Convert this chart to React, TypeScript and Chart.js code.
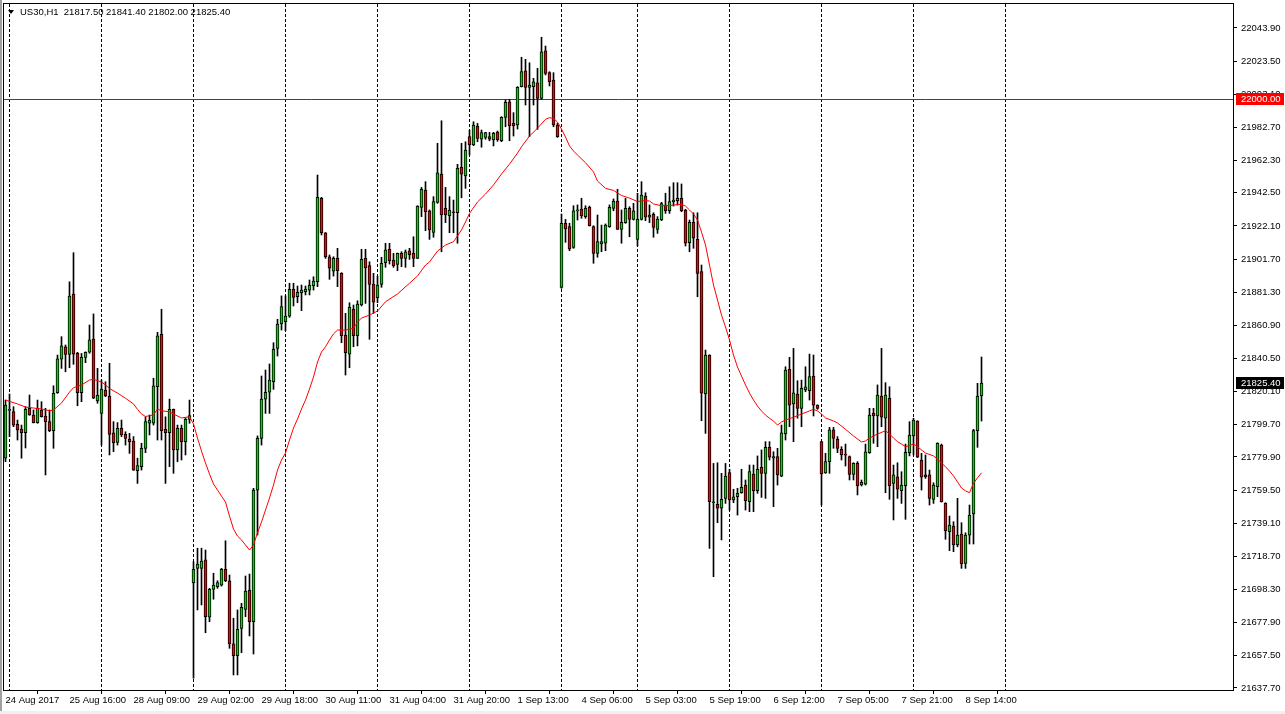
import React, { useEffect, useRef } from 'react';
import { Chart, registerables } from 'chart.js';

Chart.register(...registerables);

// ---- data (US30, H1) ----
const opens = [
  21779.1, 21808.5, 21807.8, 21800.0, 21797.1, 21794.8, 21809.8, 21805.7, 21801.0, 21808.8,
  21805.1, 21801.6, 21796.1, 21819.4, 21840.0, 21847.7, 21843.0, 21880.2, 21843.6, 21819.4,
  21841.2, 21844.3, 21852.5, 21814.3, 21806.7, 21821.1, 21817.4, 21794.8, 21788.9, 21797.5,
  21793.8, 21790.9, 21789.7, 21771.4, 21773.9, 21785.2, 21800.6, 21800.6, 21823.1, 21855.4,
  21796.9, 21794.8, 21809.2, 21784.2, 21797.5, 21789.3, 21803.0, 21702.4, 21711.3, 21711.3,
  21716.5, 21681.2, 21698.4, 21700.0, 21701.0, 21710.7, 21703.7, 21664.8, 21657.6, 21674.4,
  21686.1, 21698.0, 21678.5, 21759.5, 21791.3, 21815.4, 21819.7, 21826.2, 21846.7, 21861.7,
  21863.1, 21866.6, 21883.0, 21878.5, 21880.9, 21881.6, 21882.6, 21885.3, 21887.8, 21939.1,
  21917.9, 21903.1, 21894.3, 21902.1, 21892.9, 21854.9, 21843.2, 21870.7, 21854.5, 21873.4,
  21902.1, 21897.6, 21886.3, 21877.9, 21886.1, 21899.4, 21907.7, 21901.1, 21898.4, 21905.2,
  21902.1, 21906.8, 21905.2, 21902.1, 21933.5, 21944.2, 21931.4, 21918.1, 21936.6, 21954.0,
  21932.9, 21928.4, 21930.8, 21930.2, 21958.2, 21952.8, 21977.0, 21971.9, 21983.6, 21975.4,
  21976.6, 21977.0, 21975.0, 21979.9, 21974.5, 21988.9, 21998.5, 21985.2, 21984.2, 22007.8,
  22017.6, 22007.4, 22007.8, 22010.2, 22000.6, 22029.9, 22016.4, 22011.9, 21984.2, 21884.3,
  21923.7, 21921.6, 21908.9, 21931.3, 21932.5, 21927.8, 21933.5, 21921.6, 21905.2, 21911.0,
  21911.4, 21921.6, 21932.9, 21937.4, 21920.0, 21924.1, 21932.9, 21926.1, 21913.8, 21926.1,
  21940.5, 21927.4, 21929.2, 21920.0, 21925.9, 21934.9, 21931.4, 21937.0, 21937.6, 21939.1,
  21931.9, 21911.7, 21924.3, 21913.8, 21893.9, 21818.6, 21842.6, 21751.7, 21750.7, 21748.3,
  21754.4, 21770.2, 21753.4, 21755.4, 21757.9, 21762.6, 21752.3, 21769.4, 21759.1, 21773.5,
  21769.8, 21785.8, 21780.1, 21780.1, 21768.1, 21794.0, 21833.8, 21812.5, 21818.6, 21809.8,
  21821.1, 21820.6, 21829.7, 21811.8, 21789.3, 21770.0, 21777.0, 21796.5, 21790.7, 21784.6,
  21781.1, 21780.1, 21769.2, 21776.0, 21762.6, 21763.2, 21782.5, 21806.7, 21805.1, 21817.4,
  21803.7, 21816.0, 21763.6, 21767.7, 21759.1, 21762.2, 21782.5, 21792.8, 21802.0, 21778.0,
  21768.8, 21768.8, 21753.8, 21761.6, 21787.2, 21751.3, 21733.9, 21737.4, 21725.7, 21732.4,
  21714.4, 21731.8, 21744.8, 21796.1, 21817.5,
];

const highs = [
  21814.9, 21818.6, 21810.8, 21802.6, 21799.5, 21810.8, 21818.0, 21808.8, 21814.9, 21813.9,
  21809.8, 21808.8, 21823.7, 21842.6, 21853.9, 21848.8, 21887.7, 21905.6, 21844.3, 21843.6,
  21844.6, 21861.1, 21867.9, 21834.4, 21827.2, 21826.2, 21837.5, 21801.6, 21801.0, 21802.6,
  21795.4, 21794.4, 21792.4, 21779.1, 21788.3, 21804.6, 21805.7, 21828.3, 21856.6, 21870.8,
  21804.6, 21815.5, 21809.4, 21799.5, 21799.5, 21803.7, 21814.9, 21715.4, 21723.7, 21723.7,
  21722.6, 21699.0, 21708.3, 21703.7, 21711.3, 21728.3, 21707.2, 21680.6, 21685.7, 21689.8,
  21706.6, 21707.8, 21760.6, 21792.8, 21829.7, 21833.4, 21837.1, 21850.2, 21864.6, 21879.0,
  21879.0, 21886.8, 21886.8, 21885.1, 21885.7, 21885.1, 21888.8, 21890.8, 21953.4, 21939.7,
  21918.0, 21904.2, 21903.1, 21908.3, 21893.3, 21868.3, 21874.8, 21873.4, 21876.0, 21907.7,
  21907.7, 21900.0, 21892.9, 21891.2, 21902.8, 21911.4, 21911.4, 21905.2, 21905.4, 21906.2,
  21907.3, 21908.3, 21915.4, 21934.5, 21945.8, 21949.3, 21931.9, 21940.1, 21972.9, 21986.8,
  21945.8, 21940.1, 21938.0, 21960.0, 21972.9, 21973.9, 21981.1, 21986.2, 21985.2, 21981.1,
  21979.7, 21979.7, 21979.7, 21980.5, 21989.3, 21999.6, 22000.0, 21991.8, 22007.8, 22025.9,
  22024.6, 22022.5, 22012.9, 22019.1, 22038.2, 22032.8, 22017.0, 22016.4, 21985.2, 21929.4,
  21926.1, 21923.7, 21934.5, 21935.0, 21939.1, 21934.5, 21934.3, 21922.2, 21928.8, 21922.6,
  21923.3, 21935.0, 21938.7, 21944.6, 21931.9, 21939.1, 21933.9, 21936.0, 21942.2, 21949.3,
  21942.5, 21935.0, 21930.2, 21927.8, 21936.6, 21942.2, 21946.2, 21948.7, 21948.7, 21947.9,
  21932.3, 21925.7, 21930.2, 21930.2, 21898.0, 21845.7, 21842.8, 21775.9, 21776.3, 21769.8,
  21775.9, 21772.3, 21760.0, 21760.6, 21772.3, 21765.7, 21774.9, 21774.9, 21780.5, 21784.2,
  21789.3, 21789.3, 21783.1, 21785.2, 21799.5, 21835.4, 21841.2, 21846.7, 21826.8, 21827.2,
  21835.4, 21843.2, 21842.6, 21812.0, 21789.5, 21782.1, 21798.1, 21798.1, 21792.4, 21786.2,
  21787.8, 21780.5, 21776.3, 21777.0, 21765.7, 21787.8, 21809.8, 21809.8, 21824.2, 21846.7,
  21825.6, 21823.1, 21774.9, 21776.3, 21770.8, 21787.8, 21801.6, 21803.7, 21802.2, 21782.1,
  21781.1, 21771.8, 21764.0, 21788.6, 21787.8, 21751.7, 21743.5, 21740.0, 21754.4, 21739.4,
  21733.2, 21750.3, 21796.9, 21825.2, 21841.4,
];

const lows = [
  21777.0, 21792.4, 21798.5, 21790.3, 21779.1, 21785.4, 21805.5, 21800.8, 21800.6, 21804.4,
  21768.8, 21795.4, 21785.2, 21819.0, 21834.4, 21832.3, 21834.8, 21836.9, 21811.4, 21813.9,
  21837.9, 21843.7, 21815.8, 21812.9, 21787.2, 21817.0, 21781.1, 21783.1, 21787.2, 21792.4,
  21787.2, 21782.1, 21771.6, 21763.6, 21771.8, 21782.5, 21793.4, 21799.5, 21790.3, 21790.3,
  21763.6, 21773.9, 21769.8, 21777.0, 21778.0, 21781.1, 21800.6, 21643.7, 21685.7, 21688.8,
  21671.7, 21678.5, 21692.3, 21699.0, 21700.4, 21703.1, 21662.1, 21645.7, 21645.7, 21659.4,
  21681.6, 21669.7, 21658.6, 21731.8, 21787.2, 21806.7, 21806.7, 21821.5, 21842.0, 21858.0,
  21857.6, 21865.8, 21872.8, 21874.8, 21869.9, 21879.6, 21879.6, 21882.6, 21884.7, 21916.5,
  21902.1, 21889.2, 21891.2, 21884.7, 21850.2, 21830.3, 21834.8, 21847.7, 21848.2, 21872.8,
  21874.4, 21852.3, 21868.3, 21874.8, 21884.3, 21896.6, 21898.6, 21896.6, 21894.5, 21897.0,
  21896.6, 21901.5, 21897.0, 21902.0, 21927.8, 21919.1, 21913.8, 21915.1, 21936.0, 21906.2,
  21924.1, 21917.9, 21917.9, 21911.4, 21939.4, 21945.2, 21965.7, 21971.5, 21973.9, 21970.5,
  21975.4, 21974.5, 21971.3, 21974.2, 21973.9, 21983.1, 21974.5, 21977.4, 21981.7, 22007.6,
  21996.5, 21977.0, 21996.5, 21981.5, 22000.0, 22015.0, 22008.2, 21983.1, 21976.6, 21883.7,
  21912.0, 21906.8, 21908.3, 21925.7, 21926.8, 21926.8, 21922.0, 21899.1, 21902.8, 21906.2,
  21906.8, 21921.2, 21931.4, 21919.9, 21911.4, 21923.7, 21915.4, 21925.7, 21909.7, 21925.7,
  21925.3, 21924.1, 21915.1, 21917.5, 21925.3, 21929.8, 21929.8, 21934.3, 21934.9, 21930.8,
  21909.7, 21906.2, 21908.3, 21878.5, 21802.2, 21794.4, 21723.6, 21706.2, 21739.4, 21728.8,
  21751.3, 21747.2, 21751.7, 21744.1, 21757.5, 21747.2, 21746.2, 21746.2, 21757.5, 21755.0,
  21754.4, 21778.0, 21749.3, 21762.6, 21767.7, 21790.3, 21798.5, 21789.3, 21803.7, 21798.5,
  21820.0, 21814.9, 21805.1, 21809.2, 21750.3, 21769.8, 21769.8, 21785.2, 21782.5, 21778.0,
  21774.3, 21765.7, 21765.7, 21756.5, 21762.0, 21762.6, 21782.1, 21788.3, 21786.2, 21798.5,
  21757.9, 21753.8, 21741.1, 21754.4, 21751.3, 21741.5, 21780.5, 21781.1, 21779.5, 21759.5,
  21766.7, 21750.3, 21751.3, 21755.4, 21752.1, 21729.2, 21722.2, 21721.6, 21724.6, 21711.3,
  21711.3, 21726.3, 21726.3, 21785.8, 21802.0,
];

const closes = [
  21811.8, 21809.0, 21799.5, 21796.5, 21794.8, 21809.2, 21805.7, 21801.0, 21809.8, 21804.6,
  21801.6, 21796.1, 21819.1, 21840.2, 21848.2, 21843.0, 21878.9, 21843.2, 21819.4, 21841.2,
  21844.3, 21851.9, 21816.0, 21818.0, 21821.7, 21817.4, 21793.8, 21788.6, 21797.5, 21793.4,
  21791.3, 21789.3, 21771.8, 21774.5, 21785.2, 21801.6, 21802.6, 21823.7, 21854.5, 21796.1,
  21794.8, 21809.2, 21784.2, 21797.5, 21789.3, 21803.0, 21805.3, 21710.7, 21714.0, 21715.8,
  21681.6, 21698.4, 21701.0, 21702.5, 21710.7, 21703.7, 21664.8, 21657.6, 21673.8, 21687.3,
  21697.4, 21678.5, 21759.5, 21791.3, 21815.5, 21819.7, 21827.2, 21846.1, 21861.7, 21872.4,
  21866.6, 21883.0, 21878.1, 21881.2, 21882.6, 21883.2, 21885.7, 21888.2, 21939.7, 21917.9,
  21903.1, 21896.0, 21902.1, 21894.5, 21854.5, 21844.0, 21872.0, 21854.5, 21874.0, 21901.5,
  21896.3, 21886.1, 21875.1, 21885.7, 21899.1, 21907.3, 21900.7, 21897.6, 21905.2, 21902.1,
  21906.2, 21904.2, 21902.1, 21934.3, 21944.6, 21930.8, 21919.6, 21937.0, 21954.8, 21928.8,
  21928.8, 21931.9, 21930.2, 21957.5, 21954.0, 21968.8, 21971.9, 21984.2, 21976.0, 21979.5,
  21979.5, 21975.4, 21979.1, 21975.1, 21988.9, 21998.2, 21983.8, 21983.8, 22007.4, 22017.0,
  22007.4, 22008.8, 22010.8, 22000.6, 22029.3, 22016.0, 22010.8, 21984.2, 21977.0, 21923.7,
  21920.2, 21907.9, 21931.3, 21931.9, 21928.2, 21932.9, 21922.2, 21905.2, 21912.4, 21912.4,
  21922.6, 21933.5, 21937.4, 21920.0, 21924.3, 21932.9, 21926.1, 21931.3, 21926.1, 21941.1,
  21927.4, 21928.8, 21921.2, 21926.3, 21935.8, 21931.4, 21937.0, 21938.0, 21939.1, 21931.4,
  21911.4, 21924.3, 21914.5, 21892.9, 21819.1, 21842.6, 21752.3, 21751.9, 21748.3, 21753.8,
  21768.1, 21753.4, 21755.4, 21757.5, 21761.2, 21752.9, 21770.8, 21759.1, 21772.3, 21769.8,
  21785.8, 21779.7, 21779.1, 21768.8, 21794.8, 21833.4, 21811.8, 21819.4, 21809.8, 21822.1,
  21823.1, 21829.3, 21811.8, 21809.8, 21769.4, 21777.0, 21796.5, 21791.3, 21785.2, 21781.1,
  21781.0, 21769.2, 21776.0, 21762.2, 21764.3, 21783.1, 21805.7, 21805.1, 21818.0, 21804.3,
  21818.0, 21762.2, 21768.8, 21760.0, 21762.6, 21782.7, 21793.4, 21802.6, 21779.7, 21767.4,
  21767.7, 21754.4, 21762.6, 21788.3, 21752.3, 21734.5, 21738.0, 21725.7, 21731.8, 21714.0,
  21731.8, 21744.1, 21796.1, 21817.4, 21825.4,
];

// moving average (red line) at these bar positions
const maBars = [
  0, 3, 5, 7, 9, 11, 12, 14, 16, 17, 19, 21, 22, 24, 25, 26, 28, 30, 32, 33,
  34, 35, 37, 38, 39, 41, 42, 44, 46, 47, 48, 49, 50, 51, 52, 53, 54, 55, 56, 57,
  58, 59, 60, 61, 62, 63, 64, 65, 66, 67, 68, 69, 70, 71, 72, 73, 74, 75, 76, 77,
  78, 79, 80, 81, 82, 83, 85, 87, 88, 89, 91, 93, 95, 98, 101, 103, 105, 106, 108, 110,
  112, 113, 114, 115, 116, 118, 120, 122, 124, 126, 128, 129, 131, 133, 135, 136, 137, 138, 139, 140,
  141, 142, 143, 145, 147, 148, 150, 152, 154, 156, 158, 160, 161, 162, 164, 166, 168, 169, 170, 171,
  172, 173, 174, 175, 176, 177, 178, 179, 180, 181, 182, 183, 184, 185, 186, 187, 188, 189, 190, 191,
  192, 193, 194, 195, 197, 199, 201, 202, 203, 204, 205, 207, 208, 210, 212, 214, 215, 216, 218, 220,
  221, 222, 223, 224, 225, 226, 227, 228, 229, 230, 232, 233, 234, 235, 236, 237, 238, 239, 240, 241,
  242, 243, 244,
];
const maValues = [
  21814.9, 21812.5, 21810.6, 21810.0, 21809.4, 21808.3, 21808.8, 21813.1, 21819.8, 21822.5,
  21824.2, 21827.2, 21827.7, 21826.0, 21824.2, 21822.0, 21819.2, 21816.0, 21812.5, 21809.2,
  21806.3, 21804.8, 21805.7, 21809.4, 21808.3, 21807.7, 21806.3, 21803.9, 21804.6, 21800.2,
  21791.5, 21783.5, 21776.1, 21769.4, 21763.2, 21759.5, 21755.8, 21752.1, 21743.5, 21735.5,
  21731.2, 21728.8, 21725.7, 21722.6, 21725.7, 21733.1, 21739.8, 21747.2, 21754.6, 21762.6,
  21771.8, 21778.0, 21782.3, 21790.3, 21797.7, 21803.2, 21809.4, 21814.9, 21821.7, 21829.1,
  21838.3, 21844.5, 21847.7, 21851.9, 21855.6, 21858.0, 21858.0, 21859.1, 21862.9, 21865.4,
  21867.2, 21869.7, 21875.4, 21880.2, 21886.8, 21891.3, 21898.0, 21899.9, 21906.6, 21910.3,
  21912.4, 21915.9, 21919.6, 21924.5, 21929.8, 21936.8, 21941.7, 21947.3, 21954.0, 21960.1,
  21966.9, 21970.8, 21977.4, 21982.2, 21987.7, 21988.7, 21988.2, 21986.0, 21981.7, 21976.8,
  21971.3, 21968.2, 21965.7, 21961.0, 21955.3, 21949.7, 21945.2, 21943.9, 21940.8, 21939.2,
  21937.1, 21937.7, 21937.4, 21935.6, 21934.5, 21934.6, 21935.2, 21935.4, 21934.3, 21931.9,
  21929.4, 21925.7, 21918.3, 21910.3, 21898.0, 21885.7, 21876.5, 21867.2, 21859.9, 21851.9,
  21842.6, 21835.2, 21829.7, 21824.2, 21819.2, 21814.9, 21811.2, 21808.2, 21805.7, 21803.7,
  21802.0, 21799.5, 21801.4, 21802.6, 21804.3, 21806.3, 21808.2, 21809.2, 21808.2, 21806.3,
  21803.9, 21802.0, 21800.8, 21796.9, 21792.8, 21789.1, 21789.7, 21791.5, 21794.0, 21796.0,
  21794.0, 21791.5, 21789.3, 21787.8, 21786.2, 21786.9, 21787.8, 21786.2, 21784.2, 21782.3,
  21780.5, 21778.6, 21776.1, 21773.9, 21771.2, 21768.2, 21764.5, 21760.8, 21759.0, 21757.9,
  21763.7, 21767.0, 21770.1,
];

const xTickBars = [0, 16, 32, 48, 64, 80, 96, 112, 128, 144, 160, 176, 192, 208, 224, 240];
const xTickLabels = [
  '24 Aug 2017', '25 Aug 16:00', '28 Aug 09:00', '29 Aug 02:00', '29 Aug 18:00', '30 Aug 11:00',
  '31 Aug 04:00', '31 Aug 20:00', '1 Sep 13:00', '4 Sep 06:00', '5 Sep 03:00', '5 Sep 19:00',
  '6 Sep 12:00', '7 Sep 05:00', '7 Sep 21:00', '8 Sep 14:00',
];
const separatorBars = [1, 24, 47, 70, 93, 116, 139, 158, 181, 204, 227, 250];
const yTickValues = [
  22043.9, 22023.5, 22003.1, 21982.7, 21962.3, 21942.5, 21922.1, 21901.7, 21881.3, 21860.9,
  21840.5, 21820.1, 21799.7, 21779.9, 21759.5, 21739.1, 21718.7, 21698.3, 21677.9, 21657.5, 21637.7,
];
const priceLevel = 22000.0;
const lastPrice = 21825.4;
const titleText = 'US30,H1  21817.50 21841.40 21802.00 21825.40';

const FONT_FAMILY = "'Liberation Sans', Arial, sans-serif";
const FONT_SIZE = 9.5;

export default function App() {
  const ref = useRef<HTMLCanvasElement>(null);

  useEffect(() => {
    document.body.style.margin = '0';
    document.body.style.background = '#ffffff';
    const canvas = ref.current;
    if (!canvas) return;

    const idx = opens.map((_, i) => i);
    const bodyData = idx.map((i) => ({ x: i, y: [opens[i], closes[i]] }));
    const wickData = idx.map((i) => ({ x: i, y: [lows[i], highs[i]] }));
    const bodyColors = idx.map((i) =>
      closes[i] > opens[i] ? '#00d800' : closes[i] < opens[i] ? '#ff0000' : '#000000'
    );
    const maData = maBars.map((b, k) => ({ x: b, y: maValues[k] }));

    const font = { family: FONT_FAMILY, size: FONT_SIZE };

    const framePlugin = {
      id: 'mtFrame',
      beforeDraw(chart: any) {
        const { ctx, width, height } = chart;
        ctx.save();
        ctx.fillStyle = '#ffffff';
        ctx.fillRect(0, 0, width, height);
        ctx.fillStyle = '#a0a0a0';
        ctx.fillRect(0, 0, 2, height);
        ctx.fillStyle = '#f0f0f0';
        ctx.fillRect(0, height - 3, width, 3);
        ctx.restore();
      },
      beforeDatasetsDraw(chart: any) {
        const { ctx, chartArea, scales } = chart;
        const xs = scales.x;
        const ys = scales.y;
        ctx.save();
        ctx.beginPath();
        ctx.rect(chartArea.left, chartArea.top, chartArea.right - chartArea.left, chartArea.bottom - chartArea.top);
        ctx.clip();
        ctx.strokeStyle = '#000000';
        ctx.lineWidth = 1;
        ctx.setLineDash([3, 2]);
        separatorBars.forEach((b) => {
          const x = xs.getPixelForValue(b);
          ctx.beginPath();
          ctx.moveTo(x, chartArea.top);
          ctx.lineTo(x, chartArea.bottom);
          ctx.stroke();
        });
        ctx.setLineDash([]);
        const yl = Math.round(ys.getPixelForValue(priceLevel)) + 0.5;
        ctx.strokeStyle = '#e00000';
        ctx.beginPath();
        ctx.moveTo(chartArea.left, yl);
        ctx.lineTo(chartArea.right, yl);
        ctx.stroke();
        ctx.restore();
      },
      afterDraw(chart: any) {
        const { ctx, chartArea, scales } = chart;
        const ys = scales.y;
        ctx.save();
        // plot frame
        ctx.strokeStyle = '#000000';
        ctx.lineWidth = 1;
        ctx.strokeRect(chartArea.left - 0.5, chartArea.top - 0.5,
          chartArea.right - chartArea.left + 1, chartArea.bottom - chartArea.top + 1);
        // title
        ctx.font = `${FONT_SIZE}px ${FONT_FAMILY}`;
        ctx.fillStyle = '#000000';
        ctx.textBaseline = 'middle';
        ctx.textAlign = 'left';
        ctx.fillText(titleText, 20, 12.5);
        ctx.beginPath();
        ctx.moveTo(8, 10);
        ctx.lineTo(14, 10);
        ctx.lineTo(11, 14);
        ctx.closePath();
        ctx.fill();
        // price labels on the axis
        const boxes = [
          { v: priceLevel, bg: '#ff0000' },
          { v: lastPrice, bg: '#000000' },
        ];
        boxes.forEach(({ v, bg }) => {
          const y = Math.round(ys.getPixelForValue(v));
          ctx.fillStyle = bg;
          ctx.fillRect(chartArea.right + 3, y - 6, 48, 12);
          ctx.fillStyle = '#ffffff';
          ctx.fillText(v.toFixed(2), chartArea.right + 8, y + 0.5);
        });
        ctx.restore();
      },
    };

    const chart = new Chart(canvas, {
      type: 'bar',
      data: {
        datasets: [
          {
            type: 'line',
            label: 'MA',
            data: maData as any,
            borderColor: '#ff0000',
            borderWidth: 1,
            pointRadius: 0,
            tension: 0,
            fill: false,
            order: 0,
          } as any,
          {
            type: 'bar',
            label: 'body',
            data: bodyData as any,
            backgroundColor: bodyColors,
            borderColor: '#000000',
            borderWidth: 1,
            borderSkipped: false,
            barThickness: 3,
            minBarLength: 1,
            grouped: false,
            order: 1,
          } as any,
          {
            type: 'bar',
            label: 'wick',
            data: wickData as any,
            backgroundColor: '#000000',
            borderWidth: 0,
            barThickness: 1,
            minBarLength: 1,
            grouped: false,
            order: 2,
          } as any,
        ],
      },
      options: {
        responsive: false,
        animation: false,
        events: [],
        layout: { padding: { left: 4, top: 4, right: 0, bottom: 0 } },
        plugins: {
          legend: { display: false },
          tooltip: { enabled: false },
          title: { display: false },
        },
        scales: {
          x: {
            type: 'linear',
            position: 'bottom',
            min: -0.375,
            max: 306.875,
            offset: false,
            grid: { drawOnChartArea: false, drawTicks: true, tickLength: 4, color: '#000000' },
            border: { display: false },
            ticks: {
              autoSkip: false,
              maxRotation: 0,
              minRotation: 0,
              align: 'start',
              padding: 1,
              color: '#000000',
              font,
              callback: (v: any) => {
                const k = xTickBars.indexOf(Number(v));
                return k >= 0 ? xTickLabels[k] : '';
              },
            },
            afterBuildTicks: (s: any) => {
              s.ticks = xTickBars.map((v) => ({ value: v }));
            },
            afterFit: (s: any) => {
              s.height = 24;
              s.paddingLeft = 0;
              s.paddingRight = 0;
              s.paddingTop = 0;
              s.paddingBottom = 0;
            },
          },
          y: {
            type: 'linear',
            position: 'right',
            min: 21636.44,
            max: 22058.67,
            grid: { drawOnChartArea: false, drawTicks: true, tickLength: 4, color: '#000000' },
            border: { display: false },
            ticks: {
              padding: 4,
              color: '#000000',
              font,
              callback: (v: any) => Number(v).toFixed(2),
            },
            afterBuildTicks: (s: any) => {
              s.ticks = yTickValues.map((v) => ({ value: v }));
            },
            afterFit: (s: any) => {
              s.width = 52;
              s.paddingTop = 0;
              s.paddingBottom = 0;
              s.paddingLeft = 0;
              s.paddingRight = 0;
            },
          },
        },
      } as any,
      plugins: [framePlugin],
    });

    return () => {
      chart.destroy();
    };
  }, []);

  return (
    <div style={{ width: 1285, height: 714, overflow: 'hidden', background: '#ffffff' }}>
      <canvas ref={ref} width={1285} height={714} style={{ display: 'block' }} />
    </div>
  );
}
